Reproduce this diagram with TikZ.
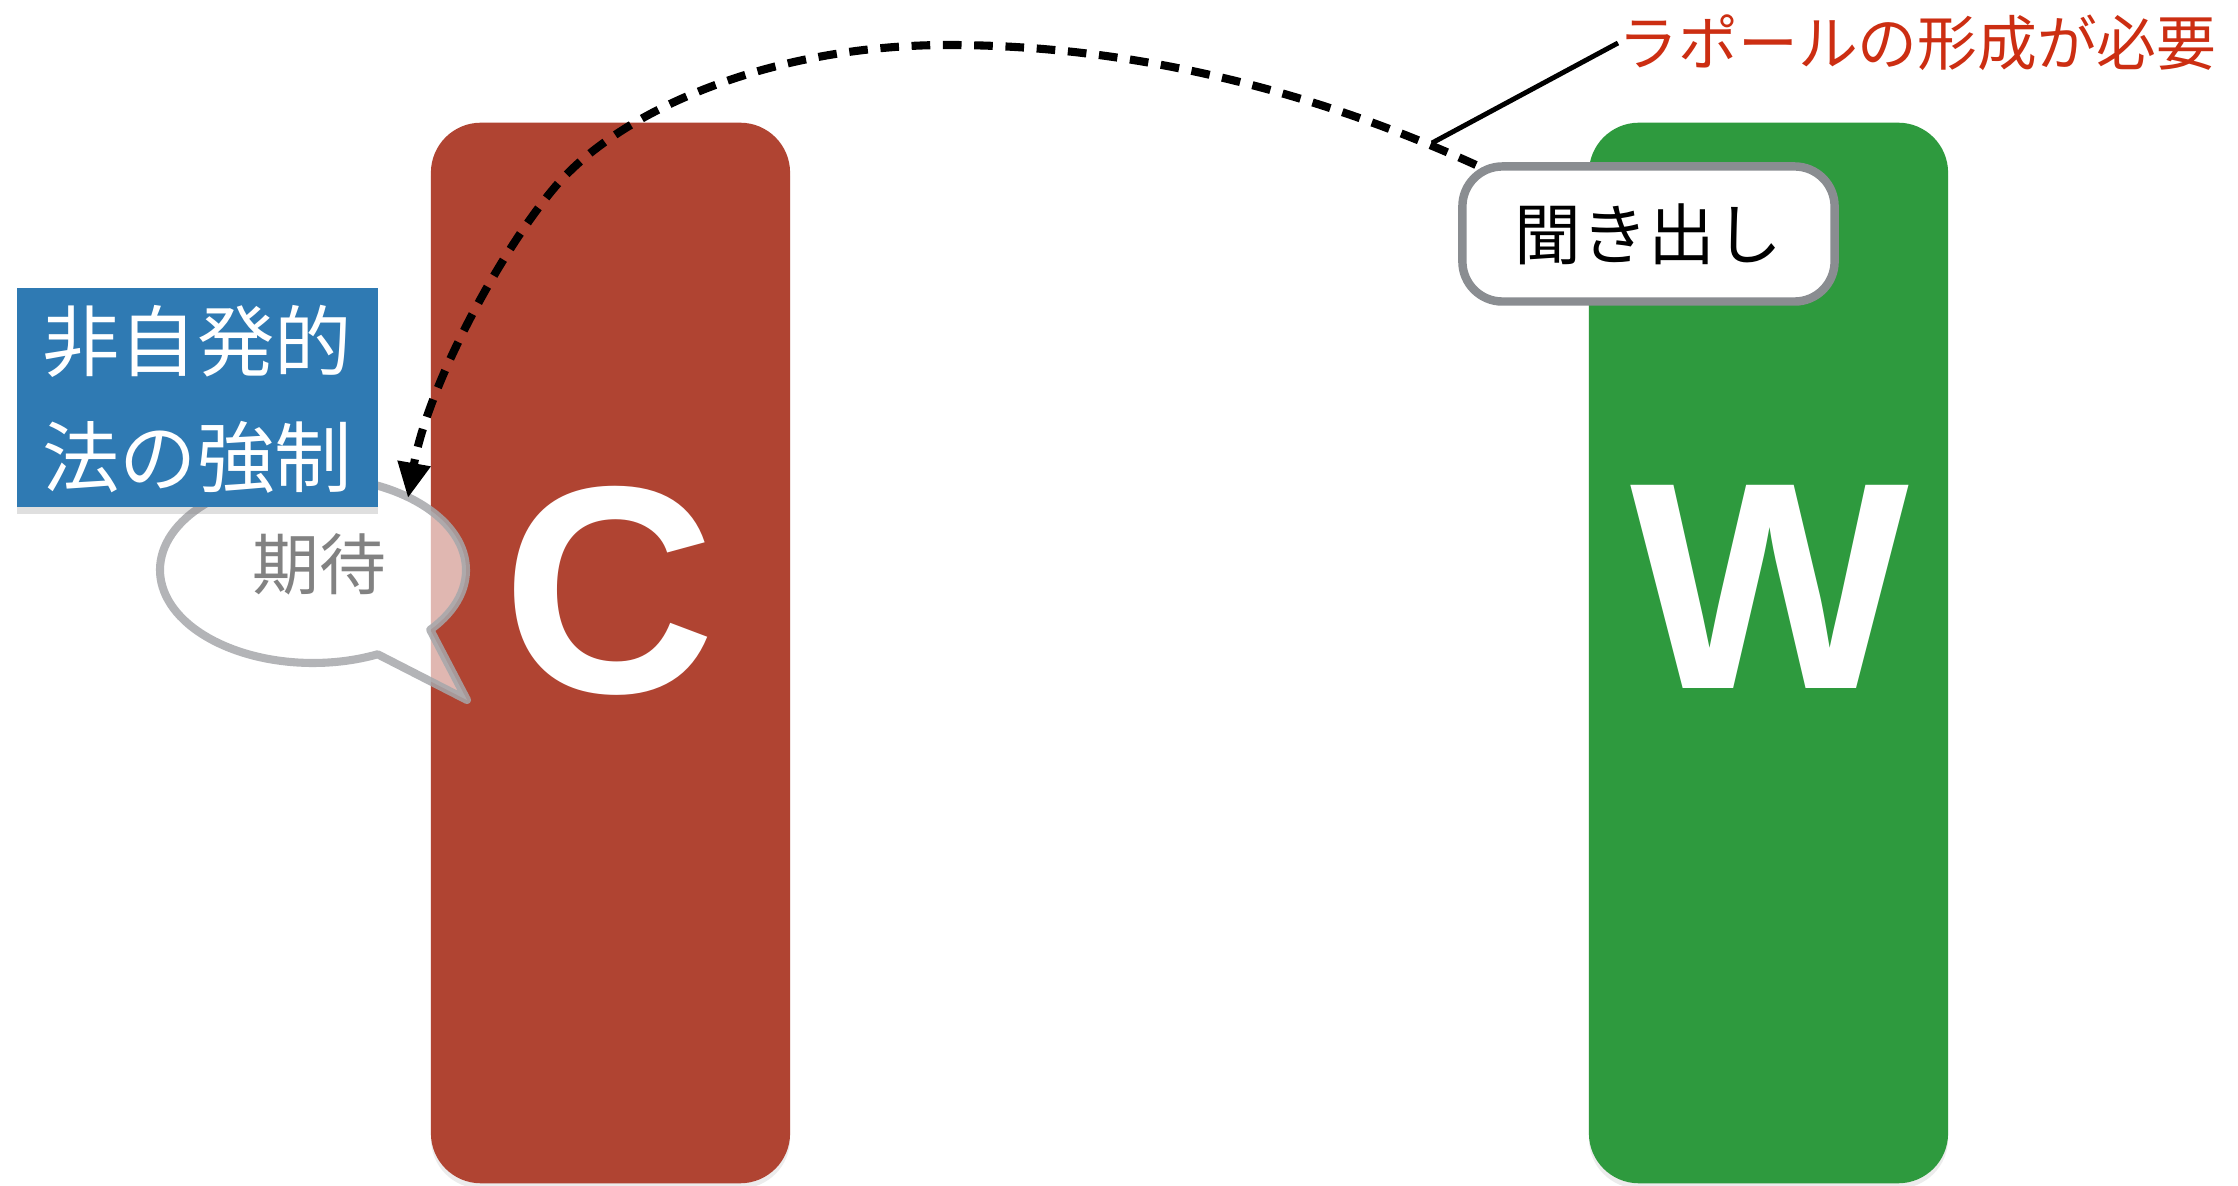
\documentclass[tikz,border=0pt]{standalone}
\usepackage{fontspec}
\newfontfamily\jpfont{Noto Sans CJK JP}
\newfontfamily\hvfont{Liberation Sans}
\usetikzlibrary{arrows.meta,shadows,calc}
\definecolor{cardred}{HTML}{B04432}
\definecolor{cardgreen}{HTML}{2E9A3E}
\definecolor{boxblue}{HTML}{2F7AB3}
\definecolor{labelred}{HTML}{CC2E12}
\definecolor{bordergray}{HTML}{8A8D91}
\definecolor{bubblegray}{HTML}{A6A7AB}
\definecolor{textgray}{HTML}{828282}
\tikzset{
  card/.style={rounded corners=0.5cm, minimum width=3.59cm, minimum height=10.6cm, inner sep=0pt,
    drop shadow={opacity=0.15, shadow xshift=0pt, shadow yshift=-1.5pt}},
  bigletter/.style={text=white, font=\hvfont\bfseries\fontsize{84pt}{84pt}\selectfont, inner sep=0pt},
  bluebox/.style={fill=boxblue, minimum width=3.61cm, minimum height=2.19cm, inner sep=0pt,
    drop shadow={opacity=0.25, shadow xshift=0pt, shadow yshift=-2pt}},
  bluetext/.style={text=white, font=\jpfont\fontsize{22pt}{26pt}\selectfont, inner sep=0pt},
  askbox/.style={draw=bordergray, line width=2.4pt, fill=white, rounded corners=0.4cm,
    minimum width=3.72cm, minimum height=1.35cm, inner sep=0pt,
    font=\jpfont\fontsize{19pt}{22pt}\selectfont},
  bubble/.style={draw=bubblegray, draw opacity=0.85, line width=2.3pt, fill=white, fill opacity=0.62,
    line join=round},
  bubbletext/.style={text=textgray, font=\jpfont\fontsize{19pt}{22pt}\selectfont, inner sep=0pt},
  rapporttext/.style={text=labelred, font=\jpfont\fontsize{17pt}{20pt}\selectfont, inner sep=0pt},
  dasharrow/.style={line width=2.3pt, dash pattern=on 5.3pt off 3.6pt,
    -{Triangle[length=10pt,width=9pt]}},
  leader/.style={line width=1.4pt}
}
\begin{document}
\begin{tikzpicture}[x=0.01cm, y=-0.01cm]
\useasboundingbox (0,0) rectangle (2238,1186);
\fill[white] (0,0) rectangle (2238,1186);
% cards
\node[card, fill=cardred] (cardC) at (610.5,653) {};
\node[card, fill=cardgreen] (cardW) at (1768.5,653) {};
\node[bigletter] (letterC) at (609,591) {C};
\node[bigletter] (letterW) at (1770,587) {W};
% speech bubble
\coordinate (bubc) at (313,570);
\draw[bubble] (467,700) -- ($(bubc)+(40:153 and 93)$) arc[start angle=40, end angle=-295, x radius=153, y radius=93] -- cycle;
\node[bubbletext] (expect) at (319,564) {期待};
% blue box
\node[bluebox] (blue) at (197.5,397.5) {};
\node[bluetext] (blue1) at (197,341) {非自発的};
\node[bluetext] (blue2) at (197,457) {法の強制};
% ask box
\node[askbox] (ask) at (1648.5,234) {聞き出し};
% red label
\node[rapporttext, anchor=west] (rapport) at (1618,43) {ラポールの形成が必要};
% dashed arrow
\coordinate (astart) at (1476,165);
\coordinate (apex) at (948,45);
\coordinate (amid) at (555,187);
\coordinate (aend) at (408,498);
\draw[dasharrow] (astart) .. controls (1300,85) and (1120,45) .. (apex)
   .. controls (780,45) and (625,105) .. (amid)
   .. controls (500,252) and (428,385) .. (aend);
% leader line
\coordinate (lead) at (1432,143);
\draw[leader] (lead) -- (rapport.west);
\end{tikzpicture}
\end{document}
